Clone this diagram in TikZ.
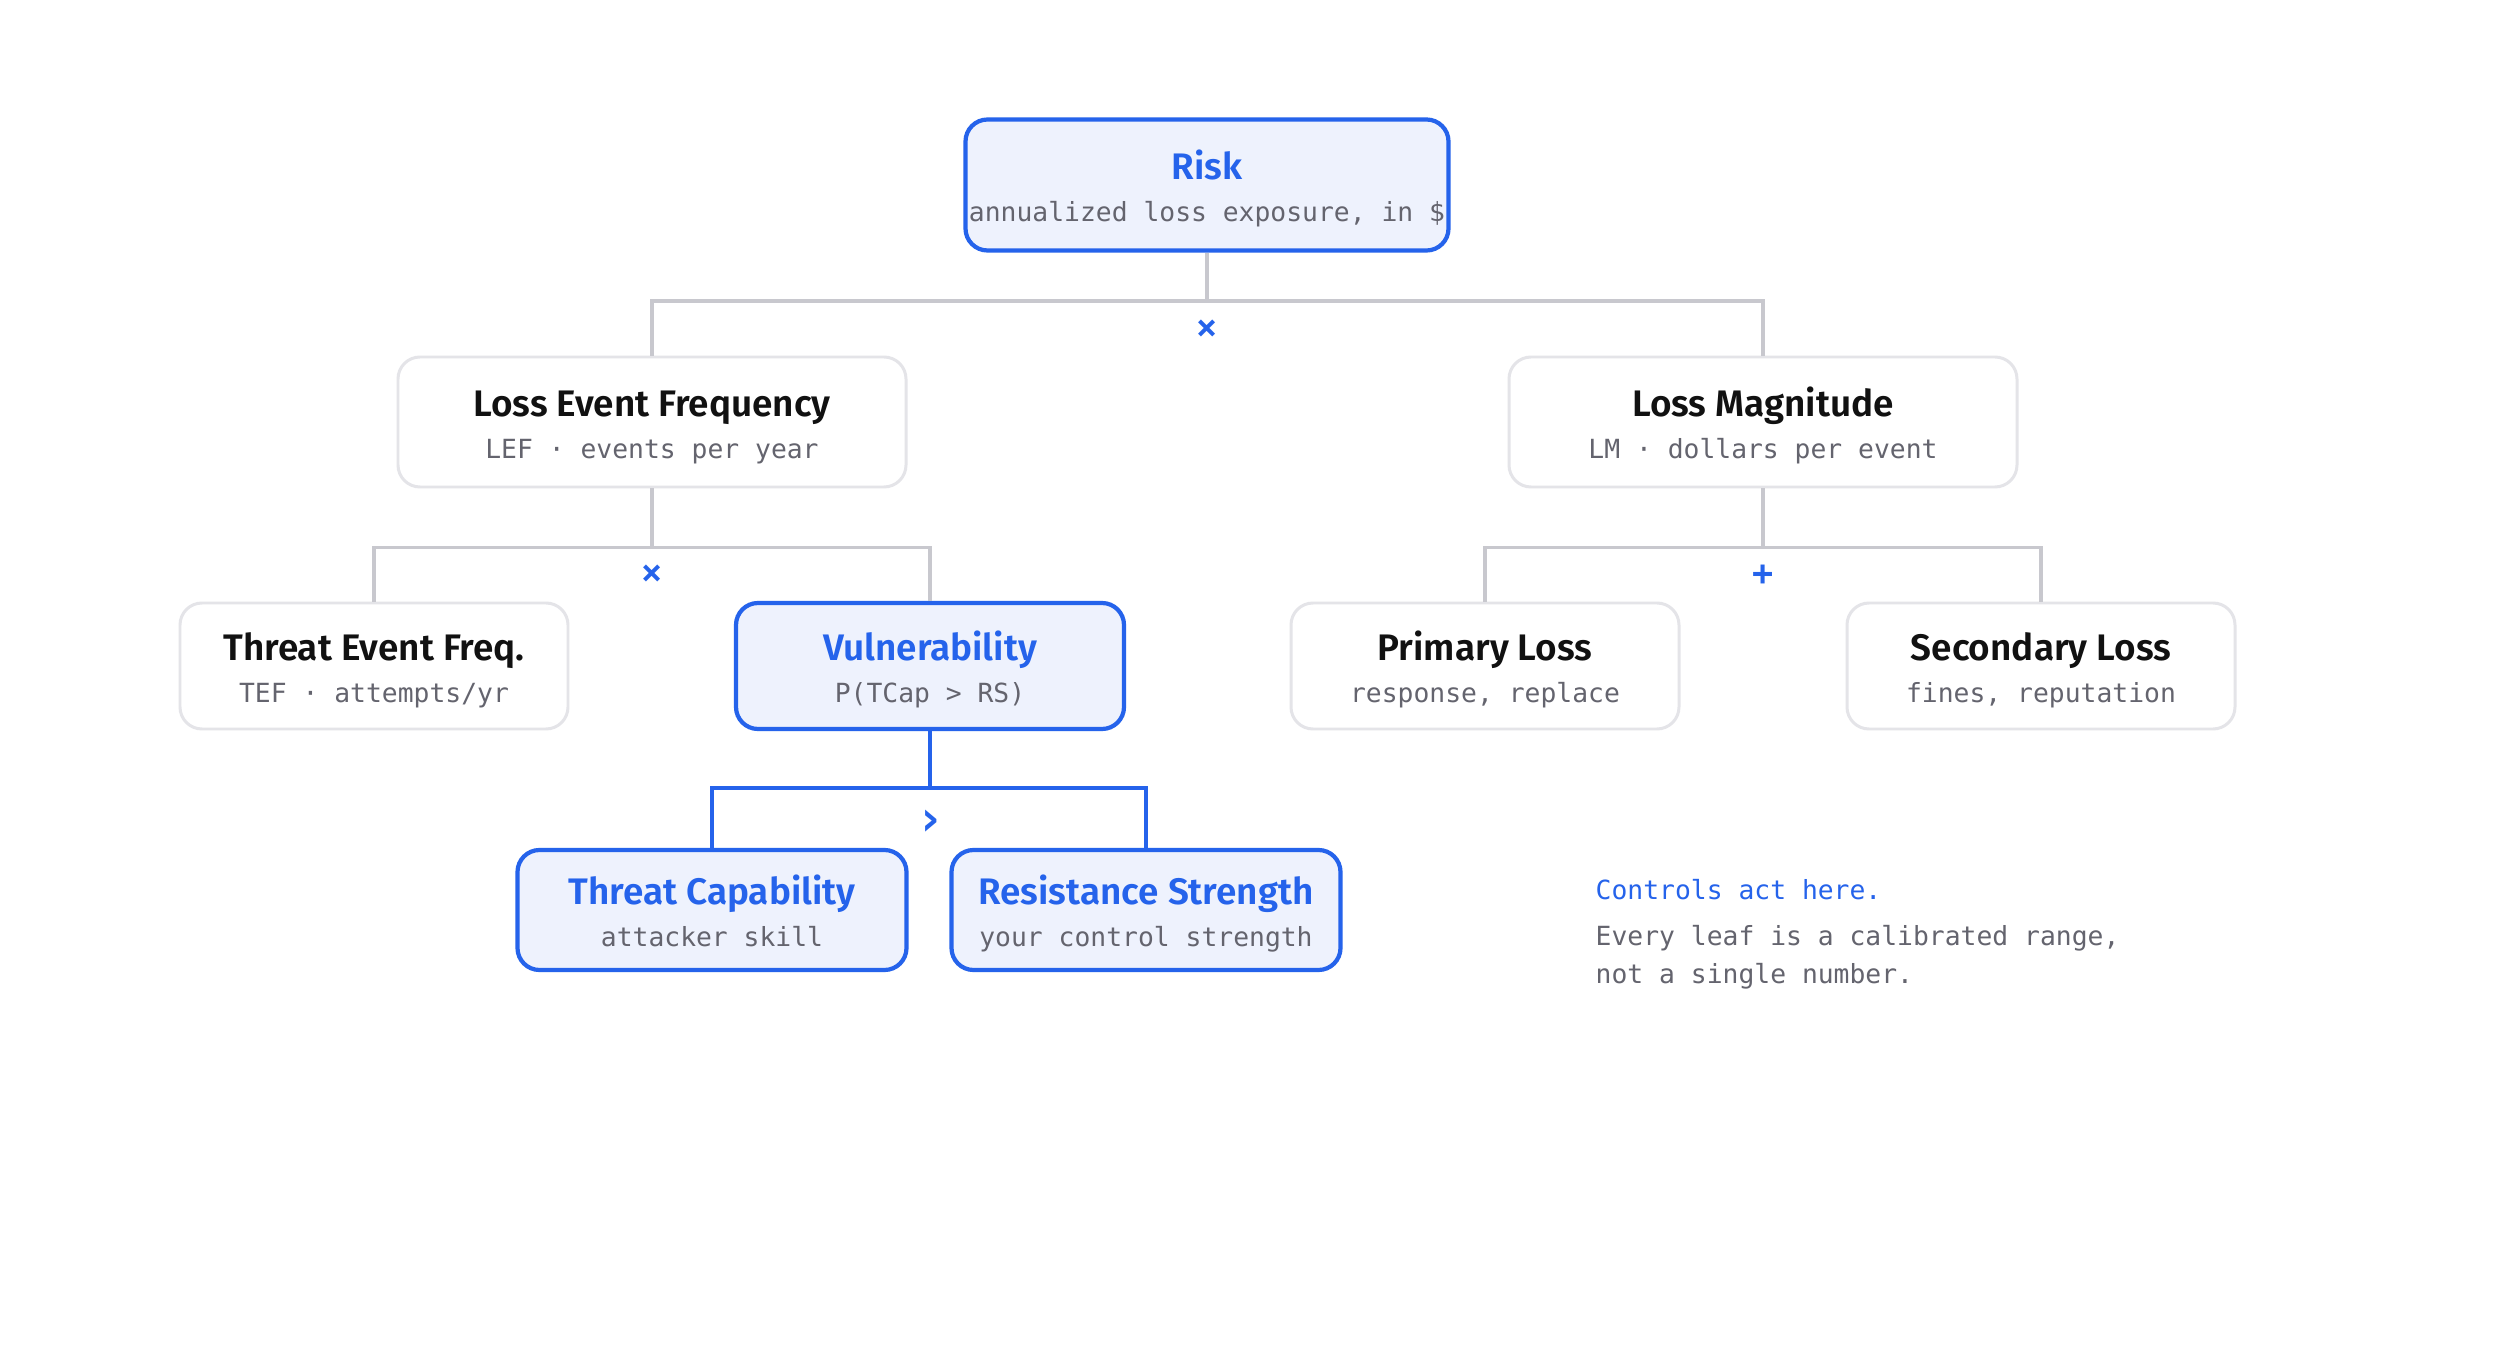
\documentclass[tikz,border=0pt]{standalone}
\usepackage{fontspec}
\setmainfont{Fira Sans}[BoldFont={Fira Sans SemiBold}]
\setmonofont{DejaVu Sans Mono}
\definecolor{riskblue}{RGB}{37,99,235}
\definecolor{hifill}{RGB}{238,242,253}
\definecolor{boxgray}{RGB}{228,228,232}
\definecolor{linegray}{RGB}{200,200,206}
\definecolor{subgray}{RGB}{100,100,110}
\definecolor{titleblack}{RGB}{17,17,17}
\newcommand{\nodetitle}{\fontsize{10.5}{12}\selectfont\bfseries\rule{0pt}{11.2pt}}
\newcommand{\nodesub}{\fontsize{7.5}{9}\selectfont\ttfamily\color{subgray}\rule[-2.2pt]{0pt}{2.2pt}}

\begin{document}
\begin{tikzpicture}[
    box/.style={draw=boxgray, line width=0.85pt, fill=white, rounded corners=0.22cm,
      align=center, inner sep=0pt, text=titleblack},
    hibox/.style={box, draw=riskblue, line width=1.2pt, fill=hifill, text=riskblue},
    wide/.style={minimum width=4.83cm, minimum height=1.31cm},
    mid/.style={minimum width=5.08cm, minimum height=1.30cm},
    leaf/.style={minimum width=3.88cm, minimum height=1.26cm},
    low/.style={minimum width=3.89cm, minimum height=1.20cm},
    conn/.style={draw=linegray, line width=1.1pt},
    hiconn/.style={draw=riskblue, line width=1.2pt},
    op/.style={text=riskblue, font=\fontsize{10}{10}\selectfont\ttfamily\bfseries, inner sep=0pt},
    note/.style={font=\fontsize{7.5}{10.8}\selectfont\ttfamily, text=subgray, align=left, inner sep=0pt}
  ]
      \fill[white] (0,0) rectangle (24.96,-13.6);
      \useasboundingbox (0,0) rectangle (24.96,-13.6);
      % top level
      \node[hibox,wide] (risk) at (12.07,-1.85) {{\nodetitle Risk}\\{\nodesub annualized loss exposure, in \$}};
      \node[box,mid] (lef) at (6.52,-4.22) {{\nodetitle Loss Event Frequency}\\{\nodesub LEF · events per year}};
      \node[box,mid] (lm) at (17.63,-4.22) {{\nodetitle Loss Magnitude}\\{\nodesub LM · dollars per event}};
      % second row
      \node[box,leaf] (tef) at (3.74,-6.66) {{\nodetitle Threat Event Freq.}\\{\nodesub TEF · attempts/yr}};
      \node[hibox,leaf] (vul) at (9.30,-6.66) {{\nodetitle Vulnerability}\\{\nodesub P(TCap > RS)}};
      \node[box,leaf] (prim) at (14.85,-6.66) {{\nodetitle Primary Loss}\\{\nodesub response, replace}};
      \node[box,leaf] (sec) at (20.41,-6.66) {{\nodetitle Secondary Loss}\\{\nodesub fines, reputation}};
      % leaves under vulnerability
      \node[hibox,low] (tcap) at (7.12,-9.10) {{\nodetitle Threat Capability}\\{\nodesub attacker skill}};
      \node[hibox,low] (rs) at (11.46,-9.10) {{\nodetitle Resistance Strength}\\{\nodesub your control strength}};
      % connectors
      \draw[conn] (risk.south) -- ++(0,-0.48) coordinate (riskbar);
      \draw[conn] (lef.north) |- (riskbar) -| (lm.north);
      \draw[conn] (lef.south) -- ++(0,-0.59) coordinate (lefbar);
      \draw[conn] (tef.north) |- (lefbar) -| (vul.north);
      \draw[conn] (lm.south) -- ++(0,-0.59) coordinate (lmbar);
      \draw[conn] (prim.north) |- (lmbar) -| (sec.north);
      \draw[hiconn] (vul.south) -- ++(0,-0.57) coordinate (vulbar);
      \draw[hiconn] (tcap.north) |- (vulbar) -| (rs.north);
      % operators
      \node[op] (oprisk) at (12.07,-3.30) {×};
      \node[op] (oplef) at (6.52,-5.75) {×};
      \node[op] (oplm) at (17.63,-5.75) {+};
      \node[op, font=\fontsize{14}{14}\selectfont\ttfamily\bfseries] (opvul) at (9.30,-8.23) {›};
      % side note
      \node[note, text=riskblue, anchor=west] (note1) at (15.95,-8.90) {Controls act here.};
      \node[note, anchor=west] (note2) at (15.95,-9.57) {Every leaf is a calibrated range,\\not a single number.};
\end{tikzpicture}
\end{document}
